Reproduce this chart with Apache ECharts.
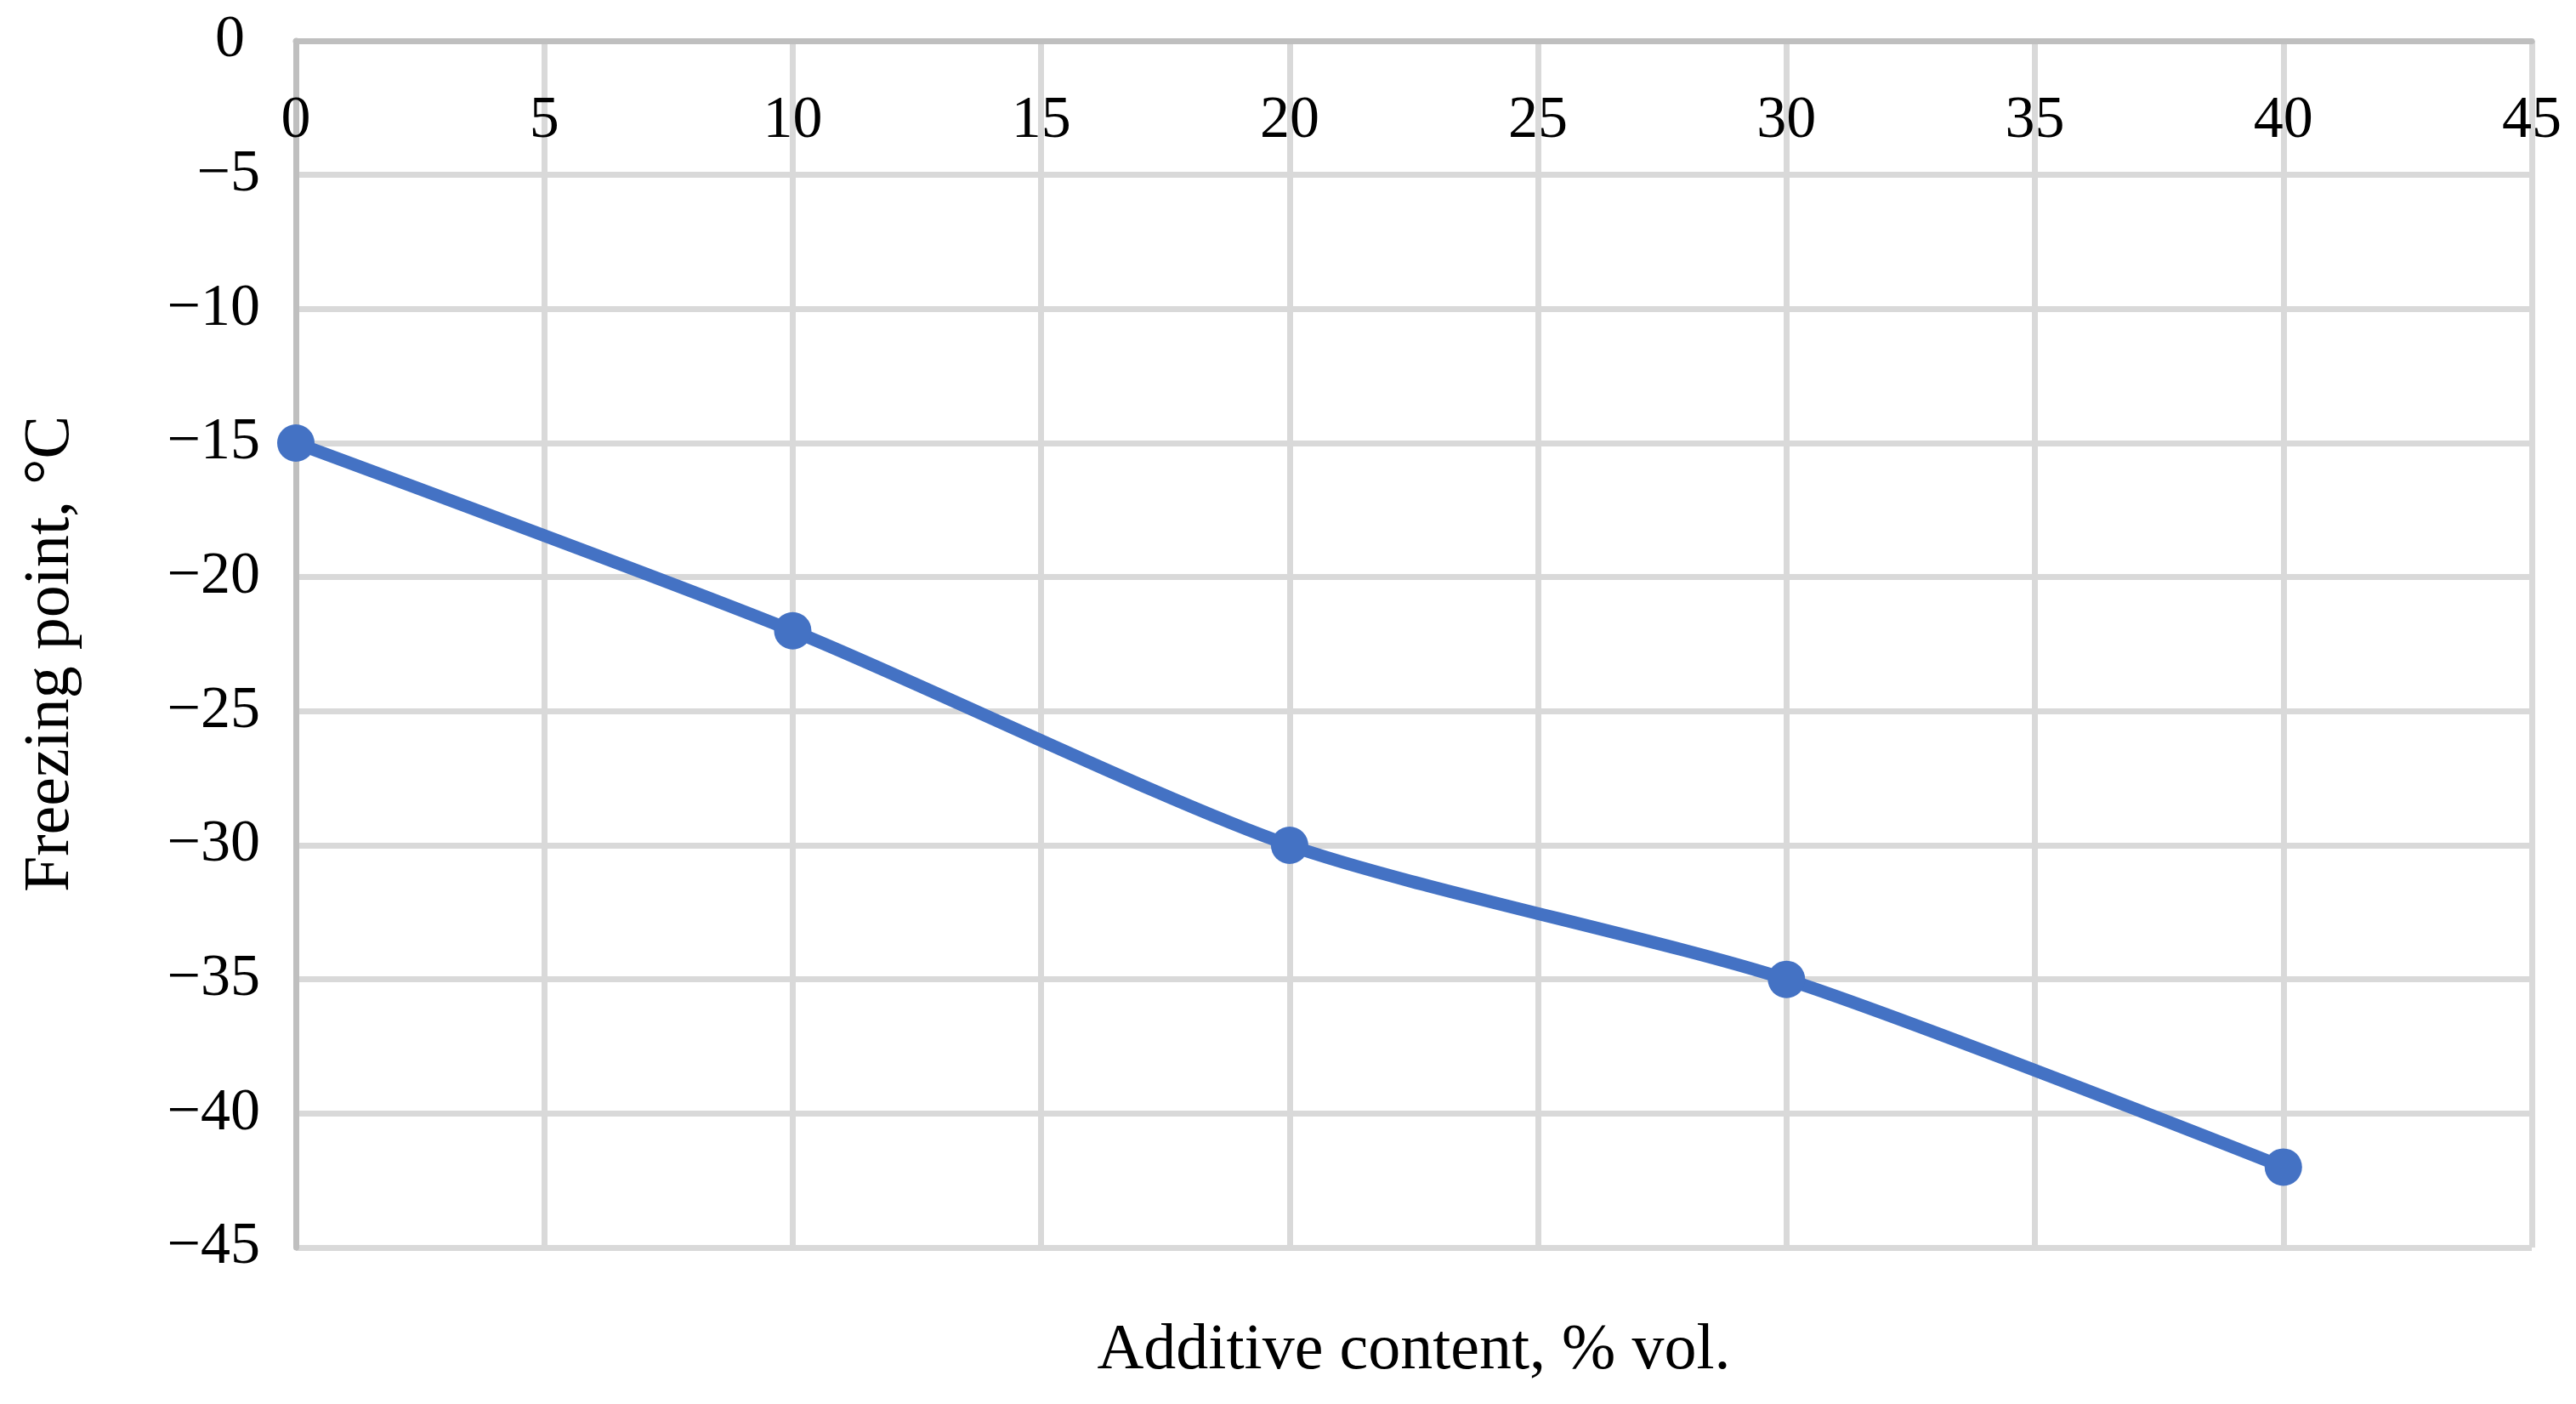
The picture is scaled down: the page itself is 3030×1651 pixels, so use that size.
<!DOCTYPE html>
<html>
<head>
<meta charset="utf-8">
<script src="https://cdn.jsdelivr.net/npm/echarts@6/dist/echarts.min.js"></script>
<style>html,body{margin:0;padding:0;background:#fff;}#c{width:3030px;height:1651px;}</style>
</head>
<body>
<div id="c"></div>
<script>
const additive = [0, 10, 20, 30, 40];
const freezing = [-15, -22, -30, -35, -42];
const xTitle = 'Additive content, % vol.';
const yTitle = 'Freezing point, \u00B0C';

const FONT = "'Liberation Serif', 'Times New Roman', serif";
const chart = echarts.init(document.getElementById('c'), null, {renderer: 'canvas'});
chart.setOption({
  backgroundColor: '#ffffff',
  animation: false,
  grid: {left: 348, right: 52, top: 48, bottom: 184, containLabel: false},
  xAxis: {
    type: 'value', position: 'top', min: 0, max: 45, interval: 5,
    axisLine: {show: true, onZero: false, lineStyle: {color: '#bfbfbf', width: 7}},
    axisTick: {show: false},
    axisLabel: {inside: true, margin: 60, color: '#000', fontFamily: FONT, fontSize: 70, verticalAlign: 'top'},
    splitLine: {show: true, lineStyle: {color: '#d9d9d9', width: 7}}
  },
  yAxis: {
    type: 'value', min: -45, max: 0, interval: 5,
    axisLine: {show: true, onZero: false, lineStyle: {color: '#bfbfbf', width: 7}},
    axisTick: {show: false},
    axisLabel: {
      margin: 42, color: '#000', fontFamily: FONT, fontSize: 70,
      formatter: v => v === 0 ? '{z|0}' : (v < 0 ? '\u2212' + Math.abs(v) : String(v)),
      rich: {z: {fontFamily: FONT, fontSize: 70, color: '#000', padding: [0, 18, 0, 0]}}
    },
    splitLine: {show: true, lineStyle: {color: '#d9d9d9', width: 7}}
  },
  series: [{
    type: 'line',
    data: additive.map((x, i) => [x, freezing[i]]),
    smooth: 0.25,
    symbol: 'circle', symbolSize: 44,
    lineStyle: {color: '#4472c4', width: 15},
    itemStyle: {color: '#4472c4'}
  }],
  graphic: [
    {type: 'text', x: 1663, y: 1589, style: {text: xTitle, font: "76px 'Liberation Serif', 'Times New Roman', serif", fill: '#000', textAlign: 'center', textVerticalAlign: 'middle'}},
    {type: 'text', x: 60, y: 769, rotation: Math.PI / 2, style: {text: yTitle, font: "76px 'Liberation Serif', 'Times New Roman', serif", fill: '#000', textAlign: 'center', textVerticalAlign: 'middle'}}
  ]
});
</script>
</body>
</html>
